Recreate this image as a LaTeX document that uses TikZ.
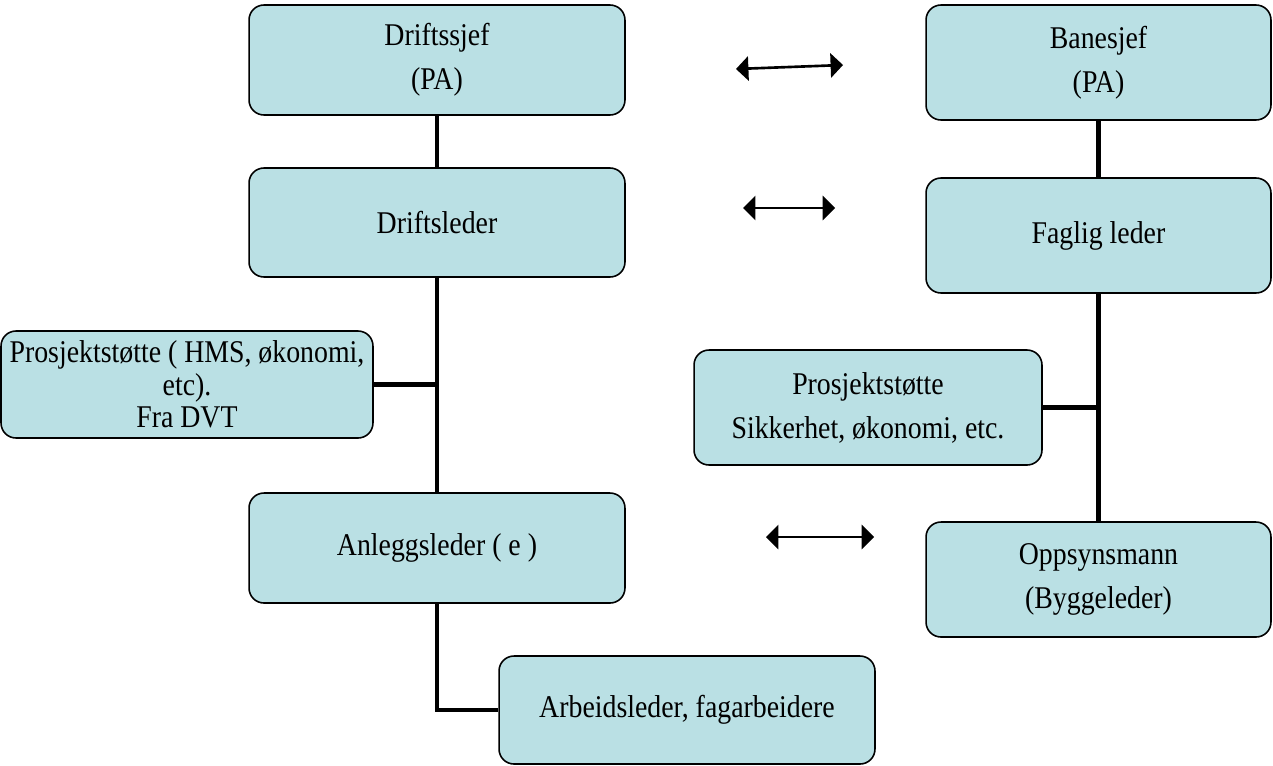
\documentclass[tikz,border=0pt]{standalone}
\usepackage{fontspec}
\usepackage{tikz}
\usetikzlibrary{positioning, arrows}
\newfontfamily\orgfont[FakeStretch=0.88]{Liberation Serif}
\definecolor{boxfill}{RGB}{186,224,228}

\begin{document}
\begin{tikzpicture}[x=0.02cm, y=-0.02cm,
		box/.style={align=center, draw, fill=boxfill, line width=0.9pt, rounded corners=8.5pt, inner sep=0pt, font=\orgfont\fontsize{18}{25}\selectfont},
		trunk/.style={-, line width=2.7pt},
		both/.style={triangle 90-triangle 90, line width=1.5pt},]
			\useasboundingbox (0, 0) rectangle (1273, 765);

			\node[box, minimum width=7.52cm, minimum height=2.20cm] at (437, 60)     (sjef)     {Driftssjef\\(PA)};
			\node[box, minimum width=6.90cm, minimum height=2.30cm] at (1098.5, 62.5) (banesjef) {Banesjef\\(PA)};
			\node[box, minimum width=7.52cm, minimum height=2.18cm] at (437, 222.5)  (leder)    {Driftsleder};
			\node[box, minimum width=6.90cm, minimum height=2.30cm] at (1098.5, 235.5) (faglig) {Faglig leder};
			\node[box, minimum width=7.44cm, minimum height=2.14cm, font=\orgfont\fontsize{18}{18.5}\selectfont] at (187, 384.5) (stotteL) {Prosjektstøtte ( HMS, økonomi,\\etc).\\Fra DVT};
			\node[box, minimum width=6.96cm, minimum height=2.30cm] at (868, 407.5)  (stotteR)  {Prosjektstøtte\\Sikkerhet, økonomi, etc.};
			\node[box, minimum width=7.52cm, minimum height=2.20cm] at (437, 548)    (anlegg)   {Anleggsleder ( e )};
			\node[box, minimum width=6.90cm, minimum height=2.30cm] at (1098.5, 579.5) (oppsyn) {Oppsynsmann\\(Byggeleder)};
			\node[box, minimum width=7.52cm, minimum height=2.16cm] at (687, 710)    (arbeid)   {Arbeidsleder, fagarbeidere};

			\coordinate (a1l) at (736, 69);
			\coordinate (a1r) at (843, 65);
			\coordinate (a2l) at (743, 208);
			\coordinate (a2r) at (835, 208);
			\coordinate (a3l) at (766, 537);
			\coordinate (a3r) at (874, 537);

			\draw[trunk]
					(sjef.south)     -- (leder.north)
					(leder.south)    -- (anlegg.north)
					(stotteL.east)   -- (stotteL.east -| leder.south)
					(anlegg.south)   |- (arbeid.west)
					(banesjef.south) -- (faglig.north)
					(faglig.south)   -- (oppsyn.north)
					(stotteR.east)   -- (stotteR.east -| faglig.south)
					;

			\draw[both] (a1l) -- (a1r);
			\draw[both] (a2l) -- (a2r);
			\draw[both] (a3l) -- (a3r);

		\end{tikzpicture}
\end{document}
